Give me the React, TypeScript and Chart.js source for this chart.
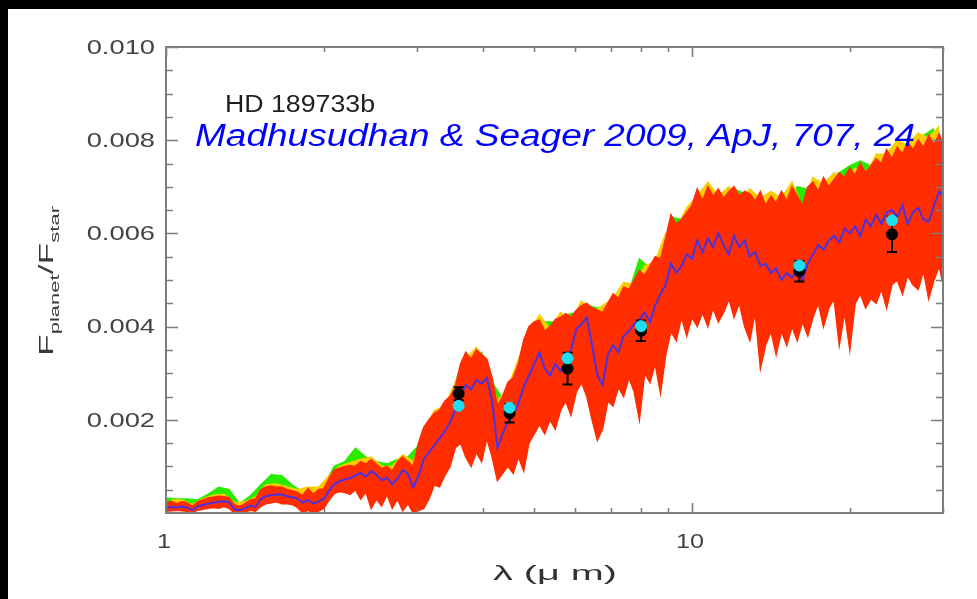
import React, { useEffect, useRef } from 'react';
import { Chart, registerables } from 'chart.js';
Chart.register(...registerables);

// wavelength grid (micron)
const wavelength = [1.000,1.023,1.047,1.072,1.096,1.122,1.148,1.175,1.202,1.230,
1.259,1.288,1.318,1.349,1.380,1.413,1.445,1.479,1.514,1.549,
1.585,1.622,1.660,1.698,1.738,1.778,1.820,1.862,1.905,1.950,
1.995,2.042,2.089,2.138,2.188,2.239,2.291,2.344,2.399,2.455,
2.512,2.570,2.630,2.692,2.754,2.818,2.884,2.951,3.020,3.090,
3.162,3.236,3.311,3.388,3.467,3.548,3.631,3.715,3.802,3.890,
3.981,4.074,4.169,4.266,4.365,4.467,4.571,4.677,4.786,4.898,
5.012,5.129,5.248,5.370,5.495,5.623,5.754,5.888,6.026,6.166,
6.310,6.457,6.607,6.761,6.918,7.079,7.244,7.413,7.586,7.762,
7.943,8.128,8.318,8.511,8.710,8.913,9.120,9.333,9.550,9.772,
10.00,10.23,10.47,10.72,10.96,11.22,11.48,11.75,12.02,12.30,
12.59,12.88,13.18,13.49,13.80,14.13,14.45,14.79,15.14,15.49,
15.85,16.22,16.60,16.98,17.38,17.78,18.20,18.62,19.05,19.50,
19.95,20.42,20.89,21.38,21.88,22.39,22.91,23.44,23.99,24.55,
25.12,25.70,26.30,26.92,27.54,28.18,28.84,29.51,30.00];

// best-fit model (units of 1e-3)
const modelSpectrum = [0.12,0.13,0.12,0.14,0.12,0.06,0.14,0.17,0.20,0.22,
0.24,0.25,0.23,0.08,0.06,0.10,0.16,0.13,0.30,0.36,
0.38,0.40,0.39,0.36,0.34,0.31,0.22,0.28,0.20,0.25,
0.30,0.48,0.62,0.68,0.72,0.75,0.80,0.86,0.78,0.90,
0.82,0.70,0.76,0.62,0.74,0.92,0.84,0.55,0.80,1.15,
1.30,1.45,1.60,1.75,1.95,2.20,2.50,2.75,2.65,2.85,
2.78,2.90,2.40,1.40,1.70,1.95,2.10,2.35,2.70,2.95,
3.20,3.45,3.10,2.95,3.20,3.05,3.25,3.50,3.95,4.05,
4.20,3.60,2.95,2.75,3.40,3.60,3.45,3.80,3.90,4.05,
4.15,4.30,4.10,4.45,4.70,4.90,5.35,5.15,5.30,5.55,
5.45,5.85,5.60,5.90,5.70,6.00,5.75,5.55,5.95,5.70,
5.85,5.50,5.60,5.30,5.35,5.15,5.25,5.00,5.15,5.05,
5.20,5.00,5.35,5.55,5.75,5.65,5.85,5.95,5.80,6.10,
6.00,6.15,5.95,6.30,6.15,6.40,6.20,6.45,6.50,6.35,
6.60,6.20,6.45,6.55,6.30,6.25,6.60,6.90,6.80];

// red model ensemble: upper / lower envelope (units of 1e-3)
const redUpper = [0.22,0.25,0.20,0.24,0.22,0.14,0.24,0.28,0.32,0.34,
0.36,0.35,0.33,0.18,0.14,0.20,0.28,0.30,0.50,0.56,
0.58,0.55,0.56,0.50,0.48,0.44,0.38,0.52,0.40,0.50,
0.52,0.75,0.92,0.96,1.00,1.02,1.00,1.10,1.05,1.15,
1.05,0.95,1.00,0.90,1.10,1.20,1.10,1.00,1.50,1.84,
2.00,2.14,2.20,2.40,2.50,2.70,3.20,3.45,3.30,3.50,
3.40,3.30,2.90,2.30,2.50,2.80,2.90,3.20,3.70,4.00,
4.10,4.14,3.90,4.00,4.15,4.20,4.28,4.20,4.35,4.45,
4.50,4.40,4.35,4.30,4.50,4.70,4.60,4.85,4.80,5.00,
5.20,5.10,5.30,5.50,5.45,5.90,6.40,6.20,6.30,6.45,
6.60,6.95,6.70,7.00,6.80,6.95,6.75,6.90,7.00,6.80,
6.90,6.85,6.70,6.90,6.60,6.80,6.65,6.90,6.70,7.00,
6.80,6.60,7.00,7.10,6.90,7.20,7.00,7.15,7.30,7.20,
7.40,7.25,7.50,7.30,7.45,7.60,7.50,7.80,7.60,7.85,
7.70,7.95,7.80,8.00,7.85,8.10,7.90,8.14,7.90];

const redLower = [0.04,0.05,0.06,0.05,0.04,0.00,0.06,0.08,0.10,0.12,
0.10,0.14,0.10,0.00,0.00,0.02,0.06,0.04,0.14,0.20,
0.22,0.24,0.20,0.20,0.18,0.12,0.00,0.06,0.00,0.04,
0.10,0.28,0.42,0.46,0.44,0.40,0.50,0.30,0.45,0.10,
0.30,0.15,0.40,0.10,0.30,0.05,0.20,0.00,0.05,0.10,
0.30,0.60,0.56,0.80,1.00,1.40,1.50,1.20,1.00,1.30,
1.10,1.60,1.20,0.70,0.85,1.00,0.85,1.20,0.90,1.50,
1.70,1.90,1.70,2.00,1.80,2.20,2.40,2.10,2.60,2.80,
2.50,2.00,1.56,1.80,2.40,2.30,2.70,2.50,2.90,2.60,
2.00,3.00,2.80,3.20,2.57,3.40,3.90,3.70,4.20,3.80,
4.20,4.00,4.30,4.00,4.40,4.10,4.30,4.60,4.20,4.50,
4.00,3.70,4.30,3.10,3.60,3.90,3.40,3.90,3.60,4.00,
3.70,4.10,3.80,4.20,4.50,4.00,4.40,4.60,3.60,4.30,
3.50,4.50,4.70,4.40,4.60,4.50,4.80,4.40,4.90,5.00,
4.70,5.10,4.90,4.80,5.20,4.60,5.00,5.30,4.90];

// green model ensemble (upper edge)
const greenLam = [1.000,1.047,1.096,1.148,1.202,1.259,1.318,1.380,1.445,1.514,
1.585,1.660,1.738,1.820,1.905,1.995,2.089,2.188,2.291,2.399,
2.512,2.630,2.754,2.884,3.020,3.162,3.311,3.467,3.631,3.802,
3.981,4.169,4.365,4.571,4.786,5.012,5.248,5.495,5.754,6.026,
6.310,6.607,6.918,7.244,7.586,7.943,8.318,8.710,9.120,9.550,
10.00,10.47,10.96,11.48,12.02,12.59,13.18,13.80,14.45,15.14,
15.85,16.60,17.38,18.20,19.05,19.95,20.89,21.88,22.91,23.99,
25.12,26.30,27.54,28.84];
const greenUpper = [0.32,0.30,0.30,0.28,0.40,0.55,0.50,0.20,0.36,0.60,
0.82,0.80,0.60,0.45,0.50,0.60,1.00,1.10,1.39,1.20,
1.10,1.05,1.15,1.20,1.45,1.95,2.15,2.45,3.15,3.25,
3.45,2.80,2.45,2.85,3.65,4.05,4.10,4.10,4.25,4.30,
4.45,4.40,4.45,4.55,4.75,5.45,5.25,5.40,6.35,6.30,
6.55,6.65,6.90,6.70,6.95,6.85,6.75,6.55,6.75,6.65,
7.00,6.95,6.90,7.15,7.30,7.45,7.55,7.45,7.60,7.60,
7.80,7.95,8.10,8.25];

// yellow model ensemble (upper edge)
const yellowLam = [1.023,1.072,1.122,1.175,1.230,1.288,1.349,1.413,1.479,1.549,
1.622,1.698,1.778,1.862,1.950,2.042,2.138,2.239,2.344,2.455,
2.570,2.692,2.818,2.951,3.090,3.236,3.388,3.548,3.715,3.890,
4.074,4.266,4.467,4.677,4.898,5.129,5.370,5.623,5.888,6.166,
6.457,6.761,7.079,7.413,7.762,8.128,8.511,8.913,9.333,9.772,
10.23,10.72,11.22,11.75,12.30,12.88,13.49,14.13,14.79,15.49,
16.22,16.98,17.78,18.62,19.50,20.42,21.38,22.39,23.44,24.55,
25.70,26.92,28.18,29.51];
const yellowUpper = [0.28,0.28,0.18,0.30,0.38,0.40,0.22,0.24,0.34,0.60,
0.62,0.56,0.50,0.55,0.55,0.80,1.00,1.08,1.15,1.20,
1.00,1.00,1.25,1.10,1.70,2.20,2.30,2.80,3.30,3.55,
3.20,2.40,2.70,3.30,3.90,4.25,3.95,4.30,4.10,4.55,
4.30,4.45,4.60,4.95,4.90,5.30,5.40,6.00,6.10,6.55,
6.80,7.10,6.80,7.00,6.70,6.95,6.75,6.90,6.75,7.10,
6.55,7.20,7.05,7.30,7.10,7.40,7.25,7.70,7.70,8.00,
7.90,8.15,8.05,8.30];

// Spitzer observations and band-averaged model
const obsLam = [3.6, 4.5, 5.8, 8.0, 16, 24];
const obsFlux = [2.56, 2.14, 3.10, 3.91, 5.19, 5.98];
const obsErr = [0.14, 0.20, 0.34, 0.22, 0.22, 0.38];
const bandModel = [2.30, 2.26, 3.32, 4.01, 5.31, 6.28];

// axes
const yMajorValues = [2, 4, 6, 8, 10];
const yTickLabels = ['0.002', '0.004', '0.006', '0.008', '0.010'];
const yMinorValues = [0.5, 1, 1.5, 2.5, 3, 3.5, 4.5, 5, 5.5, 6.5, 7, 7.5, 8.5, 9, 9.5];
const xMajorValues = [1, 10];
const xTickLabels = ['1', '10'];
const xMinorValues = [2, 3, 4, 5, 6, 7, 8, 9, 20, 30];

const pts = (xs: number[], ys: number[]) => xs.map((x, i) => ({ x, y: ys[i] }));

function drawFit(ctx: CanvasRenderingContext2D, text: string, x: number, y: number, font: string, color: string, opts: { width?: number; sx?: number; align?: string; baseline?: CanvasTextBaseline }) {
  ctx.save();
  ctx.font = font;
  ctx.fillStyle = color;
  ctx.textBaseline = opts.baseline || 'middle';
  ctx.textAlign = 'left';
  const natural = ctx.measureText(text).width;
  const sx = opts.width ? opts.width / natural : (opts.sx || 1);
  const w = natural * sx;
  let left = x;
  if (opts.align === 'center') left = x - w / 2;
  else if (opts.align === 'right') left = x - w;
  ctx.translate(left, y);
  ctx.scale(sx, 1);
  ctx.fillText(text, 0, 0);
  ctx.restore();
}

const frame = {
  id: 'frame',
  beforeDraw(chart: any) {
    const { ctx, width, height } = chart;
    ctx.save();
    ctx.fillStyle = '#ffffff';
    ctx.fillRect(0, 0, width, height);
    ctx.fillStyle = '#000000';
    ctx.fillRect(0, 0, width, 9);
    ctx.fillRect(0, 0, 8, height);
    ctx.restore();
  },
  beforeDatasetDraw(chart: any, args: any) {
    if (args.index !== 5) return;
    const { ctx, scales } = chart;
    ctx.save();
    ctx.strokeStyle = '#000';
    ctx.lineWidth = 2;
    obsLam.forEach((l, i) => {
      const px = scales.x.getPixelForValue(l);
      const y1 = scales.y.getPixelForValue(obsFlux[i] - obsErr[i]);
      const y2 = scales.y.getPixelForValue(obsFlux[i] + obsErr[i]);
      ctx.beginPath();
      ctx.moveTo(px, y1); ctx.lineTo(px, y2);
      ctx.moveTo(px - 5, y1); ctx.lineTo(px + 5, y1);
      ctx.moveTo(px - 5, y2); ctx.lineTo(px + 5, y2);
      ctx.stroke();
    });
    ctx.restore();
  },
  afterDraw(chart: any) {
    const { ctx, chartArea: a, scales } = chart;
    const xs = scales.x, ys = scales.y;
    ctx.save();
    ctx.strokeStyle = '#7d7d7d';
    ctx.lineWidth = 2;
    ctx.strokeRect(a.left, a.top, a.right - a.left, a.bottom - a.top);
    ctx.lineWidth = 1.6;
    ctx.beginPath();
    yMajorValues.forEach((v) => {
      const py = Math.round(ys.getPixelForValue(v)) + 0.5;
      ctx.moveTo(a.left, py); ctx.lineTo(a.left + 12, py);
      ctx.moveTo(a.right, py); ctx.lineTo(a.right - 12, py);
    });
    yMinorValues.forEach((v) => {
      const py = Math.round(ys.getPixelForValue(v)) + 0.5;
      ctx.moveTo(a.left, py); ctx.lineTo(a.left + 7, py);
      ctx.moveTo(a.right, py); ctx.lineTo(a.right - 7, py);
    });
    xMajorValues.forEach((v) => {
      const px = Math.round(xs.getPixelForValue(v)) + 0.5;
      ctx.moveTo(px, a.bottom); ctx.lineTo(px, a.bottom - 10);
      ctx.moveTo(px, a.top); ctx.lineTo(px, a.top + 10);
    });
    xMinorValues.forEach((v) => {
      const px = Math.round(xs.getPixelForValue(v)) + 0.5;
      ctx.moveTo(px, a.bottom); ctx.lineTo(px, a.bottom - 5);
      ctx.moveTo(px, a.top); ctx.lineTo(px, a.top + 5);
    });
    ctx.stroke();
    ctx.restore();

    const tickFont = '21px "Liberation Sans", Arial, sans-serif';
    yMajorValues.forEach((v, i) => {
      drawFit(ctx, yTickLabels[i], 155, ys.getPixelForValue(v) + 1, tickFont, '#444444', { sx: 1.3, align: 'right' });
    });
    xMajorValues.forEach((v, i) => {
      drawFit(ctx, xTickLabels[i], xs.getPixelForValue(v) - 2, 542, tickFont, '#444444', { sx: 1.2, align: 'center' });
    });
    drawFit(ctx, 'λ (μ m)', 555, 574, tickFont, '#333333', { width: 124, align: 'center' });

    // y axis title, rotated
    ctx.save();
    ctx.translate(0, 281);
    ctx.rotate(-Math.PI / 2);
    ctx.fillStyle = '#3a3a3a';
    ctx.textBaseline = 'alphabetic';
    const big = '21px "Liberation Sans", Arial, sans-serif';
    const small = '13px "Liberation Sans", Arial, sans-serif';
    const parts: [string, string, number][] = [['F', big, 53], ['planet', small, 59], ['/', big, 53], ['F', big, 53], ['star', small, 59]];
    let total = 0;
    parts.forEach(([t, f]) => { ctx.font = f; total += ctx.measureText(t).width; });
    const sx = 150 / total;
    let cx = -75;
    parts.forEach(([t, f, b]) => {
      ctx.font = f;
      const w = ctx.measureText(t).width;
      ctx.save();
      ctx.translate(cx, b);
      ctx.scale(sx, 1);
      ctx.fillText(t, 0, 0);
      ctx.restore();
      cx += w * sx;
    });
    ctx.restore();

    drawFit(ctx, 'HD 189733b', 225, 112, '23px "Liberation Sans", Arial, sans-serif', '#1e1e1e', { width: 150, baseline: 'alphabetic' });
    drawFit(ctx, 'Madhusudhan & Seager 2009, ApJ, 707, 24', 195, 146, 'italic 31px "Liberation Sans", Arial, sans-serif', '#0000ff', { width: 720, baseline: 'alphabetic' });
  },
};

const GREEN = 'rgb(40,235,0)';
const YELLOW = 'rgb(250,205,0)';
const RED = 'rgb(255,45,0)';
const BLUE = 'rgb(75,50,225)';

export default function App() {
  const ref = useRef<HTMLCanvasElement | null>(null);
  useEffect(() => {
    document.documentElement.style.background = '#ffffff';
    document.body.style.margin = '0';
    document.body.style.background = '#ffffff';
    if (!ref.current) return;
    const chart = new Chart(ref.current, {
      type: 'line',
      data: {
        datasets: [
          { label: 'green', data: pts(greenLam, greenUpper), borderColor: GREEN, backgroundColor: GREEN, borderWidth: 1.5, fill: 3, order: 7, pointRadius: 0 },
          { label: 'yellow', data: pts(yellowLam, yellowUpper), borderColor: YELLOW, backgroundColor: YELLOW, borderWidth: 1.5, fill: 3, order: 6, pointRadius: 0 },
          { label: 'red upper', data: pts(wavelength, redUpper), borderColor: RED, backgroundColor: RED, borderWidth: 1.5, fill: 3, order: 5, pointRadius: 0 },
          { label: 'red lower', data: pts(wavelength, redLower), borderColor: RED, backgroundColor: RED, borderWidth: 1.5, fill: false, order: 4, pointRadius: 0 },
          { label: 'model', data: pts(wavelength, modelSpectrum), borderColor: BLUE, borderWidth: 2, fill: false, order: 3, pointRadius: 0 },
          { label: 'observed', data: pts(obsLam, obsFlux), showLine: false, pointRadius: 5.5, pointBackgroundColor: '#000', pointBorderColor: '#000', order: 2 },
          { label: 'band model', data: pts(obsLam, bandModel), showLine: false, pointRadius: 5.5, pointBackgroundColor: 'rgb(30,222,242)', pointBorderColor: 'rgb(30,222,242)', order: 1 },
        ] as any,
      },
      options: {
        animation: false,
        responsive: false,
        events: [],
        layout: { padding: { left: 166, right: 34, top: 47, bottom: 86 } },
        plugins: { legend: { display: false }, tooltip: { enabled: false }, title: { display: false } },
        scales: {
          x: { type: 'logarithmic', min: 1, max: 30, display: false },
          y: { type: 'linear', min: 0, max: 10, display: false },
        },
        elements: { line: { tension: 0 } },
      } as any,
      plugins: [frame],
    });
    return () => chart.destroy();
  }, []);
  return (
    <div style={{ position: 'fixed', left: 0, top: 0, width: 977, height: 599, background: '#fff' }}>
      <canvas ref={ref} width={977} height={599} style={{ display: 'block', width: 977, height: 599 }} />
    </div>
  );
}
